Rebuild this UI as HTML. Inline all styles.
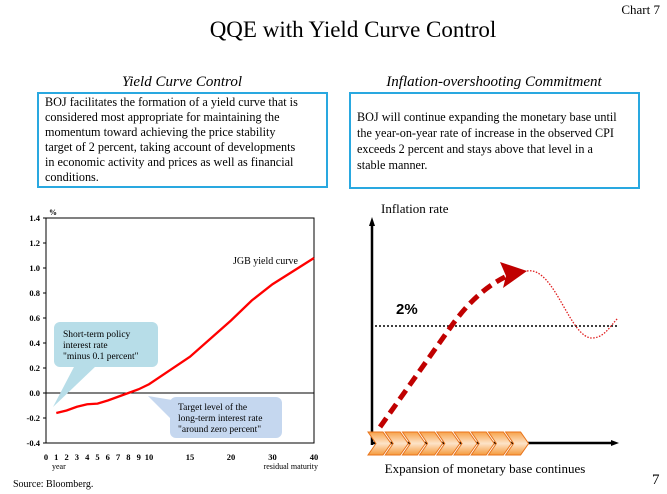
<!DOCTYPE html>
<html><head><meta charset="utf-8"><style>
body{margin:0;background:#fff;}
svg{display:block;font-family:"Liberation Serif",serif;}
</style></head><body>
<svg width="667" height="494" viewBox="0 0 667 494" xmlns="http://www.w3.org/2000/svg">
<text x="353" y="37" font-size="23" text-anchor="middle">QQE with Yield Curve Control</text>
<text x="660" y="14" font-size="13" text-anchor="end">Chart 7</text>
<text x="182" y="86" font-size="15" font-style="italic" text-anchor="middle">Yield Curve Control</text>
<text x="494" y="86" font-size="15" font-style="italic" text-anchor="middle">Inflation-overshooting Commitment</text>
<g>
<rect x="38" y="93" width="289" height="94" fill="#fff" stroke="#29a8e0" stroke-width="2"/>
<text font-size="12.2" x="45">
<tspan x="45" y="106">BOJ facilitates the formation of a yield curve that is</tspan>
<tspan x="45" y="121">considered most appropriate for maintaining the</tspan>
<tspan x="45" y="136">momentum toward achieving the price stability</tspan>
<tspan x="45" y="151">target of 2 percent, taking account of developments</tspan>
<tspan x="45" y="166">in economic activity and prices as well as financial</tspan>
<tspan x="45" y="181">conditions.</tspan>
</text></g>
<g>
<rect x="350" y="93" width="289" height="95" fill="#fff" stroke="#29a8e0" stroke-width="2"/>
<text font-size="12.2">
<tspan x="357" y="121">BOJ will continue expanding the monetary base until</tspan>
<tspan x="357" y="137">the year-on-year rate of increase in the observed CPI</tspan>
<tspan x="357" y="153">exceeds 2 percent and stays above that level in a</tspan>
<tspan x="357" y="169">stable manner.</tspan>
</text></g>
<g id="left"></g>
<g>
<text x="381" y="213" font-size="13">Inflation rate</text>
<line x1="372" y1="445" x2="372" y2="222" stroke="#000" stroke-width="2.5"/>
<polygon points="372,217 369,226 375,226" fill="#000"/>
<line x1="372" y1="443" x2="614" y2="443" stroke="#000" stroke-width="2.5"/>
<polygon points="619,443 611,440 611,446" fill="#000"/>
<line x1="375" y1="326" x2="618" y2="326" stroke="#000" stroke-width="1.5" stroke-dasharray="2,2"/>
<text x="396" y="314" font-size="15" font-weight="bold" font-family="Liberation Sans,sans-serif">2%</text>
<g id="chev"></g>
<path d="M380,427 L450,328 Q475,292 505,277" fill="none" stroke="#c00000" stroke-width="5" stroke-dasharray="11,6"/>
<polygon points="527,271 500,262 506,276 503,288" fill="#c00000"/>
<path d="M527,271 C555,266 570,340 593,338 C605,337 610,326 618,318" fill="none" stroke="#e02020" stroke-width="1.3" stroke-dasharray="1.5,1.5"/>
<text x="485" y="473" font-size="13" text-anchor="middle">Expansion of monetary base continues</text>
</g>
<text x="652" y="484" font-size="15">7</text>
<text x="13" y="487" font-size="10">Source: Bloomberg.</text>
<script>
const maturities=[1,2,3,4,5,6,7,8,9,10,15,20,25,30,40];
const yields=[-0.16,-0.14,-0.11,-0.09,-0.085,-0.06,-0.03,0,0.03,0.07,0.29,0.58,0.74,0.87,1.08];
const yTicks=[1.4,1.2,1.0,0.8,0.6,0.4,0.2,0.0,-0.2,-0.4];
const xTicks=[0,1,2,3,4,5,6,7,8,9,10,15,20,30,40];
const NS="http://www.w3.org/2000/svg";
const g=document.getElementById('left');
function X(m){if(m<=10)return 46+m*10.3;if(m<=20)return 149+(m-10)*8.2;return 231+(m-20)*4.15;}
function Y(v){return 218+(1.4-v)*125;}
function el(t,a,p){const e=document.createElementNS(NS,t);for(const k in a)e.setAttribute(k,a[k]);(p||g).appendChild(e);return e;}
const frame=el('rect',{x:46,y:218,width:268,height:225,fill:'none',stroke:'#000','stroke-width':1});


const zl=el('line',{x1:46,x2:314,y1:Y(0),y2:Y(0),stroke:'#000','stroke-width':1});


yTicks.forEach(v=>{const t=el('text',{x:40,y:Y(v)+3,'font-size':8.5,'text-anchor':'end','font-weight':'bold'});t.textContent=v.toFixed(1);


el('line',{x1:43,x2:46,y1:Y(v),y2:Y(v),stroke:'#000'});});
xTicks.forEach(m=>{const t=el('text',{x:X(m),y:460,'font-size':8.5,'text-anchor':'middle','font-weight':'bold'});t.textContent=m;

});
let u=el('text',{x:49,y:215,'font-size':8,'font-weight':'bold'});u.textContent='%';


u=el('text',{x:52,y:469,'font-size':8});u.textContent='year';


u=el('text',{x:318,y:469,'font-size':8,'text-anchor':'end'});u.textContent='residual maturity';


const line=el('polyline',{points:maturities.map((m,i)=>X(m)+','+Y(yields[i])).join(' '),fill:'none',stroke:'#ff0000','stroke-width':2.3});


u=el('text',{x:298,y:264,'font-size':10,'text-anchor':'end'});u.textContent='JGB yield curve';


const c1=el('g',{});


el('polygon',{points:'53,407 75,365 97,365',fill:'#b7dde8'},c1);
el('rect',{x:54,y:322,width:104,height:45,rx:6,fill:'#b7dde8'},c1);
const t1=el('text',{'font-size':9.5},c1);
['Short-term policy','interest rate','"minus 0.1 percent"'].forEach((s,i)=>{const ts=el('tspan',{x:63,y:337+i*11},t1);ts.textContent=s;});
const c2=el('g',{});


el('polygon',{points:'148,396 172,400 172,420',fill:'#c5d7ef'},c2);
el('rect',{x:170,y:397,width:112,height:41,rx:6,fill:'#c5d7ef'},c2);
const t2=el('text',{'font-size':9.5},c2);
['Target level of the','long-term interest rate','"around zero percent"'].forEach((s,i)=>{const ts=el('tspan',{x:178,y:410+i*11},t2);ts.textContent=s;});
const cg=document.getElementById('chev');
const dfs=el('defs',{},cg);const lg=el('linearGradient',{id:'cg',x1:0,y1:0,x2:0,y2:1},dfs);
el('stop',{offset:0,'stop-color':'#f7a24a'},lg);el('stop',{offset:0.5,'stop-color':'#fde3c8'},lg);el('stop',{offset:1,'stop-color':'#f59a3c'},lg);
for(let i=0;i<9;i++){const x=368+i*17.2;
const p=el('polygon',{points:`${x},432 ${x+15},432 ${x+23},443.5 ${x+15},455 ${x},455 ${x+8},443.5`,fill:'url(#cg)',stroke:'#e8731a','stroke-width':1},cg);

}
</script>
</svg>
</body></html>
